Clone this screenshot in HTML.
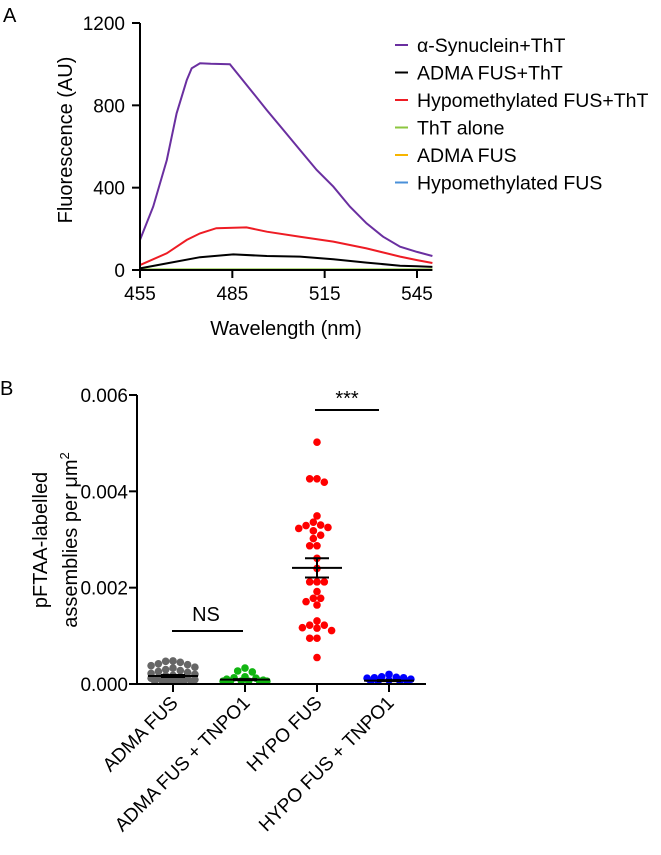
<!DOCTYPE html>
<html><head><meta charset="utf-8"><style>
body{margin:0;background:#fff}
svg{display:block;font-family:"Liberation Sans",Arial,sans-serif}
</style></head><body>
<svg width="661" height="855" viewBox="0 0 661 855">
<g id="A"></g>
<g id="B"></g>
</svg>
<script>
// Panel A data
const nmPurple=[455,459.3,463.7,466.9,470.2,471.8,474.5,478,484.2,487.5,491.8,496.2,501.6,507,512.4,517.8,523.2,528.6,534,539.5,545,550];
const valPurple=[146,308,534,761,923,980,1004,1002,1000,939,859,777,680,583,486,405,308,227,162,113,88,68];
const nmRed=[455,463.7,470.2,474.5,479.8,489.6,496.2,507,517.8,528.6,539.5,545,550];
const valRed=[24,81,146,178,203,207,186,162,138,105,65,48,34];
const nmBlack=[455,463.7,474.5,485.3,496.2,507,517.8,528.6,539.5,545,550];
const valBlack=[8,32,62,76,68,65,52,36,21,18,15];
const nmFlat=[455,550];
const valGreen=[3,3];
const valYellow=[2,2];
const valBlue=[2,2];
const xTicksA=[455,485,515,545];
const yTicksA=[0,400,800,1200];
const legendLabels=["α-Synuclein+ThT","ADMA FUS+ThT","Hypomethylated FUS+ThT","ThT alone","ADMA FUS","Hypomethylated FUS"];
const legendColors=["#6a2fa0","#000000","#ee1c24","#8cc63f","#f7b500","#4a90d9"];
// Panel B data
const categoriesB=["ADMA FUS","ADMA FUS + TNPO1","HYPO FUS","HYPO FUS + TNPO1"];
const grayVals=[0.00048,0.00047,0.00045,0.00042,0.00040,0.00038,0.00035,0.00033,0.00030,0.00028,0.00026,0.00024,0.00022,0.00020,0.00018,0.00017,0.00015,0.00014,0.00013,0.00012,0.0001,0.00009,0.00008,0.00007,0.00006,0.00005,0.00004,0.00003,0.00002,0.00001];
const greenVals=[0.00033,0.00027,0.00025,0.00015,0.00013,0.00012,0.00010,0.00008,0.00006,0.00005,0.00004,0.00003,0.00002,0.00001];
const redVals=[0.00502,0.00426,0.00426,0.00419,0.00349,0.00336,0.00330,0.00323,0.00329,0.00318,0.00325,0.00309,0.00302,0.00287,0.00287,0.00261,0.00240,0.00212,0.00212,0.00212,0.00192,0.00178,0.00178,0.00171,0.00164,0.00131,0.00122,0.00122,0.00117,0.00116,0.00111,0.00095,0.00095,0.00055];
const blueVals=[0.00020,0.00015,0.00014,0.00013,0.00013,0.00012,0.00010,0.00008,0.00006,0.00004,0.00003,0.00002];
const meansB=[0.000166,0.00009,0.00241,0.00007];
const semB=[0.00002,0.00001,0.00020,0.00001];
const yTicksB=[0,0.002,0.004,0.006];
const yTickLabelsB=["0.000","0.002","0.004","0.006"];

const NS="http://www.w3.org/2000/svg";
function mk(p,t,a,txt){const e=document.createElementNS(NS,t);for(const k in a)e.setAttribute(k,a[k]);if(txt!==undefined)e.textContent=txt;p.appendChild(e);return e;}

// ---------- Panel A ----------
const A=document.getElementById('A');
const xA=v=>140+(v-455)*(417-140)/90;
const yA=v=>270-v*(270-23)/1200;
let t=mk(A,'text',{x:3,y:22,'font-size':20},'A');

function series(nm,vals,col,name){
  const d=nm.map((n,i)=>(i?'L':'M')+xA(n).toFixed(1)+','+yA(vals[i]).toFixed(1)).join('');
  const p=mk(A,'path',{d:d,fill:'none',stroke:col,'stroke-width':2});
  
}
series(nmFlat,valBlue,legendColors[5],'line-hypomethylated-fus');
series(nmFlat,valYellow,legendColors[4],'line-adma-fus');
series(nmFlat,valGreen,legendColors[3],'line-tht-alone');
series(nmBlack,valBlack,legendColors[1],'line-adma-fus-tht');
series(nmRed,valRed,legendColors[2],'line-hypo-fus-tht');
series(nmPurple,valPurple,legendColors[0],'line-synuclein-tht');
let ax=mk(A,'path',{d:`M140,${yA(1200)}V270H${xA(550)}`,fill:'none',stroke:'#000','stroke-width':2});

yTicksA.forEach(v=>{
  const l=mk(A,'line',{x1:132,x2:140,y1:yA(v),y2:yA(v),stroke:'#000','stroke-width':2});
  
  const tx=mk(A,'text',{x:125,y:yA(v)+7,'font-size':19,'text-anchor':'end'},String(v));
  
});
xTicksA.forEach(v=>{
  const l=mk(A,'line',{x1:xA(v),x2:xA(v),y1:270,y2:278,stroke:'#000','stroke-width':2});
  
  const tx=mk(A,'text',{x:xA(v),y:300,'font-size':19,'text-anchor':'middle'},String(v));
  
});
t=mk(A,'text',{x:286,y:335,'font-size':20,'text-anchor':'middle'},'Wavelength (nm)');

t=mk(A,'text',{x:0,y:0,'font-size':20,'text-anchor':'middle',transform:'translate(72,140) rotate(-90)'},'Fluorescence (AU)');

legendLabels.forEach((lab,i)=>{
  const y=45+i*27.5;
  const l=mk(A,'line',{x1:395,x2:408,y1:y,y2:y,stroke:legendColors[i],'stroke-width':2});
  
  const tx=mk(A,'text',{x:417,y:y+7,'font-size':19.5},lab);
  
});

// ---------- Panel B ----------
const B=document.getElementById('B');
const catX=[173,245,317,389];
const yB=v=>684-v*(684-395)/0.006;
t=mk(B,'text',{x:0,y:395,'font-size':20},'B');

const cols=['#666666','#11b511','#ff0000','#0000ff'];
const names=['dots-adma-fus','dots-adma-fus-tnpo1','dots-hypo-fus','dots-hypo-fus-tnpo1'];
[grayVals,greenVals,redVals,blueVals].forEach((vals,ci)=>{
  const r=3.8, placed=[];
  const g=mk(B,'g',{});
  
  [...vals].sort((a,b)=>b-a).forEach(v=>{
    const cy=Math.min(yB(v),684-r+1);
    const offs=[0];for(let k=1;k<=6;k++){offs.push(-k*3.65,k*3.65);}
    let ox=0,best=-1;
    for(const o of offs){
      const dmin=placed.length?Math.min(...placed.map(p=>Math.hypot(p[0]-o,p[1]-cy))):99;
      if(dmin>=7.0){ox=o;best=99;break;}
      if(dmin>best){best=dmin;ox=o;}
    }
    placed.push([ox,cy]);
    const c=mk(g,'circle',{cx:catX[ci]+ox,cy:cy,r:r,fill:cols[ci]});
    
  });
  const m=meansB[ci],s=semB[ci],x=catX[ci];
  const mean=mk(B,'line',{x1:x-25,x2:x+25,y1:yB(m),y2:yB(m),stroke:'#000','stroke-width':2});
  
  const e=mk(B,'path',{d:`M${x},${yB(m+s)}V${yB(m-s)}M${x-12},${yB(m+s)}h24M${x-12},${yB(m-s)}h24`,stroke:'#000','stroke-width':2,fill:'none'});
  
});
ax=mk(B,'path',{d:`M137,395V684H426`,fill:'none',stroke:'#000','stroke-width':2});

yTicksB.forEach((v,i)=>{
  const l=mk(B,'line',{x1:129,x2:137,y1:yB(v),y2:yB(v),stroke:'#000','stroke-width':2});
  
  const tx=mk(B,'text',{x:128,y:yB(v)+7,'font-size':19,'text-anchor':'end'},yTickLabelsB[i]);
  
});
categoriesB.forEach((c,i)=>{
  const l=mk(B,'line',{x1:catX[i],x2:catX[i],y1:684,y2:692,stroke:'#000','stroke-width':2});
  
  const tx=mk(B,'text',{x:0,y:0,'font-size':19,'text-anchor':'end',transform:`translate(${catX[i]+6},${704}) rotate(-45)`},c);
  
});
t=mk(B,'text',{x:0,y:0,'font-size':20,'text-anchor':'middle',transform:'translate(47,540) rotate(-90)'},'pFTAA-labelled');

t=mk(B,'text',{x:0,y:0,'font-size':20,'text-anchor':'middle',transform:'translate(77,540) rotate(-90)'});

t.innerHTML='assemblies per μm<tspan dy="-8" font-size="13">2</tspan>';
let s=mk(B,'line',{x1:172,x2:243,y1:631,y2:631,stroke:'#000','stroke-width':2});

t=mk(B,'text',{x:206,y:621,'font-size':20,'text-anchor':'middle'},'NS');

s=mk(B,'line',{x1:315,x2:379,y1:410,y2:410,stroke:'#000','stroke-width':2});

t=mk(B,'text',{x:347,y:405,'font-size':20,'text-anchor':'middle'},'***');

</script>
</body></html>
